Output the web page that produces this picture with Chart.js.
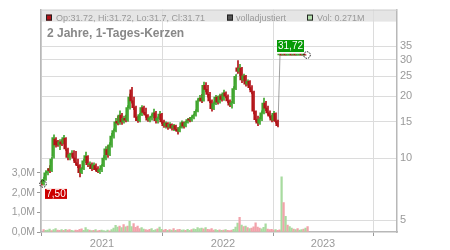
<!DOCTYPE html>
<html lang="de">
<head>
<meta charset="UTF-8">
<title>2 Jahre, 1-Tages-Kerzen</title>
<script src="https://cdn.jsdelivr.net/npm/chart.js"></script>
<style>
  html, body { margin: 0; padding: 0; background: #fff; }
  #wrap { width: 450px; height: 250px; }
</style>
</head>
<body>
<div id="wrap"><canvas id="chart" width="450" height="250"></canvas></div>
<script>
// daily candles, one entry per session slot
const opens = [
  7.7, 7.5, 7.9, 8.5, 8.9, 8.7, 10.2, 12.4, 12.1, 11.6,
  12.0, 11.8, 12.5, 11.0, 10.1, 10.4, 10.6, 10.0, 9.5, 9.2,
  8.5, 8.9, 9.7, 10.2, 9.3, 9.3, 8.9, 9.2, 8.9, 8.6,
  8.8, 9.2, 10.0, 11.0, 10.4, 11.6, 12.8, 13.6, 15.1, 14.8,
  16.2, 15.0, 15.6, 15.3, 17.6, 21.5, 19.0, 17.6, 15.8, 15.2,
  16.3, 17.6, 16.7, 16.2, 15.3, 15.7, 16.0, 16.6, 15.2, 15.6,
  16.4, 15.0, 14.4, 14.8, 14.2, 14.6, 14.0, 14.4, 13.8, 13.5,
  14.1, 14.9, 14.3, 14.9, 15.4, 15.3, 15.8, 16.2, 16.9, 19.0,
  19.6, 19.0, 22.6, 21.6, 20.4, 19.0, 17.4, 18.4, 19.8, 18.7,
  20.1, 19.3, 20.8, 20.0, 19.0, 18.1, 18.6, 21.8, 27.5, 26.4,
  27.4, 24.0, 25.1, 22.9, 23.6, 22.0, 21.0, 16.9, 15.4, 14.8,
  15.5, 16.6, 18.5, 17.5, 16.6, 16.0, 15.3, 16.5, 15.1,
  31.70, 31.72, 31.70, 31.72, 31.70, 31.71, 31.72, 31.70, 31.72, 31.70, 31.71, 31.72, 31.70, 31.72
];
const highs = [
  7.8, 8.1, 8.7, 8.9, 9.2, 10.1, 13.0, 12.6, 12.2, 12.3,
  12.3, 12.9, 12.6, 11.2, 10.6, 10.9, 10.9, 10.8, 9.9, 9.3,
  9.0, 9.9, 10.7, 10.3, 9.6, 9.5, 9.5, 9.4, 9.1, 8.9,
  9.3, 10.3, 11.4, 11.5, 11.9, 13.2, 13.9, 15.6, 16.0, 17.0,
  16.5, 16.0, 16.2, 18.0, 20.5, 22.1, 19.8, 17.9, 16.0, 16.5,
  18.0, 17.9, 17.5, 16.3, 15.9, 16.4, 17.3, 16.9, 15.9, 16.9,
  16.5, 15.3, 15.0, 14.9, 14.9, 14.7, 14.6, 14.5, 14.1, 14.3,
  15.2, 15.0, 15.1, 15.6, 15.8, 16.0, 16.4, 17.2, 19.4, 20.2,
  20.4, 23.4, 23.3, 22.6, 20.9, 19.2, 18.8, 20.2, 20.0, 20.5,
  20.4, 21.4, 21.0, 20.3, 19.2, 18.9, 22.3, 25.5, 29.8, 28.6,
  27.6, 25.6, 25.3, 24.0, 23.8, 22.5, 21.2, 17.0, 16.0, 15.8,
  17.0, 19.6, 18.9, 17.9, 17.0, 16.2, 16.9, 16.6, 15.3,
  31.73, 31.73, 31.73, 31.73, 31.73, 31.73, 31.73, 31.73, 31.73, 31.73, 31.73, 31.73, 31.73, 31.72
];
const lows = [
  7.4, 7.4, 7.8, 8.3, 8.5, 8.6, 10.0, 11.3, 11.4, 11.0,
  11.5, 11.7, 10.9, 9.8, 9.8, 10.2, 9.7, 9.3, 9.0, 8.1,
  8.4, 8.8, 9.5, 9.1, 8.9, 8.7, 8.8, 8.7, 8.5, 8.4,
  8.6, 9.1, 9.8, 10.1, 10.3, 11.3, 12.5, 13.4, 14.5, 14.6,
  14.6, 14.8, 15.0, 15.1, 17.3, 18.5, 17.2, 15.2, 14.9, 15.0,
  16.1, 16.4, 15.8, 15.1, 15.0, 15.3, 15.7, 14.8, 14.8, 15.4,
  14.7, 14.1, 14.0, 13.8, 14.0, 13.7, 13.6, 13.6, 13.1, 13.4,
  14.0, 14.0, 14.2, 14.8, 15.0, 15.1, 15.5, 16.0, 16.8, 18.9,
  18.6, 18.9, 21.0, 19.8, 18.6, 16.9, 17.2, 18.2, 18.3, 18.5,
  18.9, 19.1, 19.6, 18.6, 17.8, 17.5, 18.4, 21.5, 25.8, 25.2,
  23.3, 23.7, 22.4, 22.6, 21.5, 20.6, 16.4, 15.1, 14.4, 14.6,
  15.2, 16.4, 17.0, 16.2, 15.7, 15.0, 15.2, 14.8, 14.2,
  31.69, 31.69, 31.69, 31.69, 31.69, 31.69, 31.69, 31.69, 31.69, 31.69, 31.69, 31.69, 31.69, 31.70
];
const closes = [
  7.5, 7.9, 8.5, 8.6, 8.7, 9.9, 12.6, 11.6, 11.6, 12.0,
  11.7, 12.6, 11.1, 10.1, 10.4, 10.5, 10.0, 9.5, 9.2, 8.5,
  8.9, 9.7, 10.3, 9.3, 9.4, 8.9, 9.3, 8.8, 8.6, 8.8,
  9.2, 10.0, 11.1, 10.4, 11.6, 12.8, 13.6, 15.0, 14.8, 16.2,
  15.0, 15.6, 15.3, 17.6, 19.8, 19.0, 17.6, 15.8, 15.2, 16.3,
  17.6, 16.7, 16.2, 15.3, 15.7, 16.0, 16.6, 15.2, 15.6, 16.4,
  15.0, 14.4, 14.8, 14.2, 14.6, 14.0, 14.4, 13.8, 13.5, 14.1,
  14.9, 14.3, 14.9, 15.4, 15.3, 15.8, 16.2, 16.9, 19.0, 19.6,
  19.0, 22.6, 21.6, 20.4, 19.0, 17.4, 18.4, 19.8, 18.7, 20.1,
  19.3, 20.8, 20.0, 19.0, 18.1, 18.6, 21.8, 25.0, 26.4, 27.4,
  24.0, 25.1, 22.9, 23.6, 22.0, 21.0, 16.9, 15.4, 14.8, 15.5,
  16.6, 18.5, 17.5, 16.6, 16.0, 15.3, 16.5, 15.1, 14.4,
  31.72, 31.70, 31.72, 31.70, 31.71, 31.72, 31.70, 31.72, 31.70, 31.71, 31.72, 31.70, 31.72, 31.71
];
// volume in millions
const volumes = [
  0.12, 0.08, 0.10, 0.15, 0.07, 0.12, 0.18, 0.10, 0.08, 0.12,
  0.09, 0.14, 0.10, 0.12, 0.08, 0.06, 0.10, 0.09, 0.13, 0.16,
  0.08, 0.22, 0.12, 0.10, 0.07, 0.09, 0.12, 0.06, 0.08, 0.10,
  0.07, 0.05, 0.10, 0.06, 0.12, 0.20, 0.34, 0.25, 0.30, 0.22,
  0.38, 0.26, 0.30, 0.54, 0.28, 0.43, 0.24, 0.30, 0.18, 0.22,
  0.15, 0.12, 0.10, 0.14, 0.18, 0.09, 0.12, 0.16, 0.25, 0.13,
  0.10, 0.14, 0.08, 0.12, 0.10, 0.17, 0.09, 0.12, 0.14, 0.10,
  0.11, 0.09, 0.13, 0.08, 0.12, 0.16, 0.14, 0.22, 0.18, 0.20,
  0.16, 0.23, 0.14, 0.12, 0.18, 0.10, 0.12, 0.09, 0.11, 0.08,
  0.10, 0.12, 0.08, 0.07, 0.10, 0.14, 0.25, 0.45, 0.75, 0.35,
  0.28, 0.30, 0.22, 0.18, 0.20, 0.26, 0.46, 0.25, 0.20, 0.16,
  0.24, 0.42, 0.15, 0.12, 0.14, 0.10, 0.12, 0.09, 0.11,
  2.80, 1.50, 0.80, 0.35, 0.28, 0.20, 0.15, 0.12, 0.18, 0.10, 0.12, 0.15, 0.20, 0.27
];

// axis ticks
const yearTicks = [30, 90.5, 140.5];
const yearLabels = ['2021', '2022', '2023'];
const priceTicks = [5, 10, 15, 20, 25, 30, 35];
const volTicks = [0, 1, 2, 3];

const headerText = 'Op:31.72, Hi:31.72, Lo:31.7, Cl:31.71';
const titleText = '2 Jahre, 1-Tages-Kerzen';
const firstLabel = '7,50';
const lastLabel = '31,72';

const FONT = "'Liberation Sans', Arial, sans-serif";
const UP = '#3ea52c', DOWN = '#b31217';
const UP_VOL = '#a8dba0', DOWN_VOL = '#f2a2aa';

const isUp = i => closes[i] >= opens[i];

const wickData = lows.map((l, i) => ({ x: i, y: [l, highs[i]] }));
const bodyData = opens.map((o, i) => ({ x: i, y: [o, closes[i]] }));
const closeData = closes.map((c, i) => ({ x: i, y: c }));
const volData = volumes.map((v, i) => ({ x: i, y: v }));

// header, title, labels and markers
const overlay = {
  id: 'overlay',
  beforeDraw(chart) {
    const { ctx, chartArea: a } = chart;
    ctx.save();
    ctx.fillStyle = '#e5e5e5';
    ctx.fillRect(a.left, a.top, a.right - a.left, 12);
    ctx.restore();
  },
  afterDraw(chart) {
    const { ctx, chartArea: a } = chart;
    const x = chart.scales.x, y = chart.scales.y;
    ctx.save();
    // top frame line
    ctx.strokeStyle = '#cfcfcf';
    ctx.lineWidth = 1;
    ctx.beginPath();
    ctx.moveTo(a.left, a.top + 0.5);
    ctx.lineTo(a.right, a.top + 0.5);
    ctx.stroke();

    // legend line
    ctx.font = '9px ' + FONT;
    ctx.textBaseline = 'alphabetic';
    const sq = (sx, fill) => {
      ctx.fillStyle = fill;
      ctx.fillRect(sx, a.top + 5, 6, 6);
      ctx.strokeStyle = '#222';
      ctx.strokeRect(sx + 0.5, a.top + 5.5, 5, 5);
    };
    sq(a.left + 5, '#b31217');
    ctx.fillStyle = '#999';
    ctx.fillText(headerText, a.left + 15, a.top + 11);
    sq(a.left + 186, '#555');
    ctx.fillStyle = '#999';
    ctx.fillText('volladjustiert', a.left + 195, a.top + 11);
    sq(a.left + 266, '#b5e0ae');
    ctx.fillStyle = '#999';
    ctx.fillText('Vol: 0.271M', a.left + 276, a.top + 11);

    // title
    ctx.font = 'bold 12px ' + FONT;
    ctx.fillStyle = '#888';
    ctx.fillText(titleText, a.left + 6, a.top + 27);

    // end markers
    const n = closes.length - 1;
    const fx = x.getPixelForValue(0), fy = y.getPixelForValue(closes[0]);
    const lx = x.getPixelForValue(n), ly = y.getPixelForValue(closes[n]);
    ctx.setLineDash([1.5, 1]);
    ctx.strokeStyle = '#111';
    ctx.lineWidth = 1;
    [[fx + 1, fy], [lx + 1, ly]].forEach(([cx, cy]) => {
      ctx.beginPath();
      ctx.arc(cx, cy, 3.3, 0, Math.PI * 2);
      ctx.stroke();
    });
    ctx.setLineDash([]);

    ctx.font = '10px ' + FONT;
    ctx.textAlign = 'center';
    ctx.textBaseline = 'middle';
    // first value
    ctx.fillStyle = '#cc0000';
    ctx.fillRect(fx + 3, fy + 5, 22, 10);
    ctx.fillStyle = '#fff';
    ctx.fillText(firstLabel, fx + 14, fy + 10.5);
    // last value
    ctx.fillStyle = '#079a07';
    ctx.fillRect(lx - 29, ly - 15, 27, 12);
    ctx.fillStyle = '#fff';
    ctx.fillText(lastLabel, lx - 15.5, ly - 8.5);
    ctx.restore();
  }
};

new Chart(document.getElementById('chart').getContext('2d'), {
  type: 'bar',
  data: {
    datasets: [
      { label: 'Kerzen', data: bodyData, yAxisID: 'y', order: 1, barThickness: 1.5, minBarLength: 1,
        backgroundColor: bodyData.map((d, i) => isUp(i) ? UP : DOWN), borderWidth: 0 },
      { label: 'Docht', data: wickData, yAxisID: 'y', order: 2, barThickness: 1,
        backgroundColor: wickData.map((d, i) => isUp(i) ? UP : DOWN), borderWidth: 0 },
      { type: 'line', label: 'Schluss', data: closeData, yAxisID: 'y', order: 3,
        borderColor: 'rgba(130,130,130,0.75)', borderWidth: 1, pointRadius: 0, tension: 0 },
      { label: 'Volumen', data: volData, yAxisID: 'yVol', order: 4, barThickness: 1.6,
        backgroundColor: volData.map((d, i) => isUp(i) ? UP_VOL : DOWN_VOL), borderWidth: 0 }
    ]
  },
  options: {
    responsive: false,
    animation: false,
    devicePixelRatio: 1,
    layout: { padding: { top: 7, left: 0, right: 0, bottom: 0 } },
    plugins: { legend: { display: false }, tooltip: { enabled: false } },
    scales: {
      x: {
        type: 'linear', min: -0.5, max: 177.5, offset: false,
        afterBuildTicks: s => { s.ticks = yearTicks.map(v => ({ value: v })); },
        afterFit: s => { s.height = 18; },
        ticks: { color: '#9a9a9a', font: { family: FONT, size: 11 }, padding: 1, maxRotation: 0,
                 callback: (v, i) => yearLabels[i] },
        grid: { color: '#dcdcdc', tickColor: '#999', tickLength: 4 },
        border: { color: '#b8b8b8', width: 1.5 }
      },
      y: {
        type: 'logarithmic', position: 'right', min: 4.38, max: 52.7,
        afterBuildTicks: s => { s.ticks = priceTicks.map(v => ({ value: v })); },
        afterFit: s => { s.width = 53; },
        ticks: { color: '#9a9a9a', font: { family: FONT, size: 11 }, padding: 3,
                 callback: v => String(v) },
        grid: { color: '#dcdcdc', drawTicks: false },
        border: { color: '#b8b8b8', width: 1.5 }
      },
      yVol: {
        type: 'linear', position: 'left', min: 0, max: 11.3,
        afterBuildTicks: s => { s.ticks = volTicks.map(v => ({ value: v })); },
        afterFit: s => { s.width = 41; },
        ticks: { color: '#9a9a9a', font: { family: FONT, size: 10.5 }, padding: 2,
                 callback: v => v.toFixed(1).replace('.', ',') + 'M' },
        grid: { drawOnChartArea: false, tickColor: '#999', tickLength: 4 },
        border: { color: '#b8b8b8', width: 1.5 }
      }
    }
  },
  plugins: [overlay]
});
</script>
</body>
</html>
